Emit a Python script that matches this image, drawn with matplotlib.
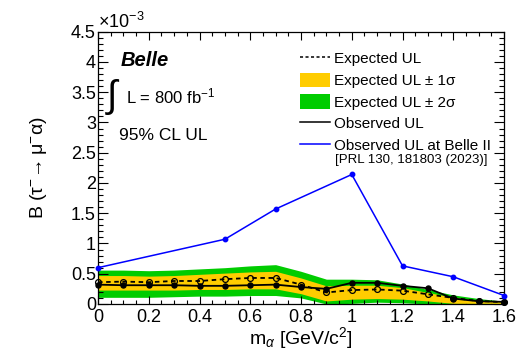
import matplotlib
matplotlib.use("Agg")
import matplotlib.pyplot as plt
from matplotlib.ticker import MultipleLocator, FuncFormatter
from matplotlib.patches import Patch
from matplotlib.lines import Line2D

plt.rcParams["font.family"] = ["Liberation Sans", "DejaVu Sans"]
plt.rcParams["mathtext.fontset"] = "custom"
plt.rcParams["mathtext.rm"] = "Liberation Sans"
plt.rcParams["mathtext.it"] = "Liberation Sans:italic"
plt.rcParams["mathtext.bf"] = "Liberation Sans:bold"

# ---------------------------------------------------------
# upper limits, in units of 1e-3
# ---------------------------------------------------------

mass = [0.0, 0.1, 0.2, 0.3, 0.4, 0.5, 0.6, 0.7, 0.8,
        0.9, 1.0, 1.1, 1.2, 1.3, 1.4, 1.5, 1.6]

exp_ul = [0.36, 0.37, 0.36, 0.38, 0.38, 0.41, 0.43, 0.43, 0.32,
          0.19, 0.23, 0.24, 0.22, 0.16, 0.10, 0.05, 0.03]
obs_ul = [0.32, 0.31, 0.31, 0.31, 0.30, 0.30, 0.31, 0.32, 0.28,
          0.25, 0.35, 0.35, 0.30, 0.26, 0.09, 0.045, 0.035]

exp_1s_hi = [0.47, 0.47, 0.46, 0.47, 0.49, 0.51, 0.53, 0.54, 0.43,
             0.30, 0.31, 0.31, 0.27, 0.19, 0.11, 0.06, 0.035]
exp_1s_lo = [0.23, 0.23, 0.23, 0.23, 0.24, 0.24, 0.25, 0.25, 0.17,
             0.05, 0.08, 0.09, 0.08, 0.05, 0.01, 0.01, 0.01]
exp_2s_hi = [0.56, 0.56, 0.55, 0.56, 0.58, 0.60, 0.63, 0.65, 0.54,
             0.41, 0.41, 0.40, 0.33, 0.24, 0.15, 0.09, 0.045]
exp_2s_lo = [0.11, 0.11, 0.11, 0.12, 0.13, 0.13, 0.14, 0.14, 0.10,
             0.00, 0.01, 0.03, 0.02, 0.00, 0.00, 0.00, 0.00]

# Belle II result (PRL 130, 181803)
mass_b2 = [0.0, 0.5, 0.7, 1.0, 1.2, 1.4, 1.6]
ul_b2 = [0.60, 1.07, 1.57, 2.14, 0.63, 0.45, 0.14]

yellow = "#ffcc00"
green = "#00cc00"

# ---------------------------------------------------------
# PLOT
# ---------------------------------------------------------

fig = plt.figure(figsize=(5.17, 3.57), dpi=100)
ax = fig.add_axes([0.1896, 0.1485, 0.7853, 0.7627])

ax.fill_between(mass, exp_2s_lo, exp_2s_hi, color=green, lw=0, zorder=1)
ax.fill_between(mass, exp_1s_lo, exp_1s_hi, color=yellow, lw=0, zorder=2)

ax.plot(mass, exp_ul, color="black", ls=(0, (2.5, 2)), lw=1.3,
        marker="o", ms=4.2, mfc="none", mec="black", mew=0.9,
        zorder=4, clip_on=False)
ax.plot(mass, obs_ul, color="black", ls="-", lw=1.3,
        marker="o", ms=3.6, mfc="black", mec="black",
        zorder=5, clip_on=False)
ax.plot(mass_b2, ul_b2, color="#0000ff", ls="-", lw=1.1,
        marker="o", ms=3.2, mfc="#0000ff", mec="#0000ff",
        zorder=6, clip_on=False)

ax.set_xlim(0, 1.6)
ax.set_ylim(0, 4.5)

ax.xaxis.set_major_locator(MultipleLocator(0.2))
ax.xaxis.set_minor_locator(MultipleLocator(0.05))
ax.yaxis.set_major_locator(MultipleLocator(0.5))
ax.yaxis.set_minor_locator(MultipleLocator(0.1))
fmt = FuncFormatter(lambda v, p: f"{v:g}")
ax.xaxis.set_major_formatter(fmt)
ax.yaxis.set_major_formatter(fmt)

ax.tick_params(which="both", direction="in", top=True, right=True,
               labelsize=13, width=0.8, colors="black")
ax.tick_params(axis="y", which="major", length=7.2, pad=1.5)
ax.tick_params(axis="y", which="minor", length=3.6)
ax.tick_params(axis="x", which="major", length=5.8, pad=3.5)
ax.tick_params(axis="x", which="minor", length=2.9)
for s in ax.spines.values():
    s.set_linewidth(0.9)

ax.set_xlabel(r"m$_{\alpha}$ [GeV/c$^{2}$]", fontsize=14)
ax.set_ylabel(r"B ($\mathregular{\tau^{-}\!\rightarrow\mu^{-}\alpha}$)",
              fontsize=14)
ax.xaxis.set_label_coords(0.5, -0.077)
ax.yaxis.set_label_coords(-0.12, 0.5)

ax.text(0.0, 1.0, r"$\times$10$^{-3}$", transform=ax.transAxes,
        ha="left", va="bottom", fontsize=13)

# ---------------------------------------------------------
# LABELS
# ---------------------------------------------------------

ax.text(0.056, 0.875, "Belle", transform=ax.transAxes, ha="left",
        va="baseline", fontsize=14.5, fontweight="bold", fontstyle="italic")
ax.text(0.033, 0.762, "\u222b", transform=ax.transAxes, ha="center",
        va="center", fontsize=27)
ax.text(0.068, 0.737, r"L = 800 fb$^{-1}$", transform=ax.transAxes,
        ha="left", va="baseline", fontsize=12)
ax.text(0.052, 0.602, "95% CL UL", transform=ax.transAxes, ha="left",
        va="baseline", fontsize=12.5)

# ---------------------------------------------------------
# LEGEND
# ---------------------------------------------------------

handles = [
    Line2D([], [], color="black", ls=(0, (2, 1.6)), lw=1.1),
    Patch(facecolor=yellow, edgecolor="none"),
    Patch(facecolor=green, edgecolor="none"),
    Line2D([], [], color="black", ls="-", lw=1.1),
    Line2D([], [], color="#0000ff", ls="-", lw=1.1),
]
labels = [
    "Expected UL",
    "Expected UL \u00b1 1\u03c3",
    "Expected UL \u00b1 2\u03c3",
    "Observed UL",
    "Observed UL at Belle II",
]
ax.legend(handles, labels, loc="upper left", bbox_to_anchor=(0.4975, 0.929),
          frameon=False, fontsize=11, borderpad=0, borderaxespad=0,
          handlelength=1.96, handleheight=1.05, handletextpad=0.26,
          labelspacing=0.42)
ax.text(0.584, 0.527, "[PRL 130, 181803 (2023)]", transform=ax.transAxes,
        ha="left", va="center", fontsize=9.5)

fig.savefig("out.png", dpi=100)
